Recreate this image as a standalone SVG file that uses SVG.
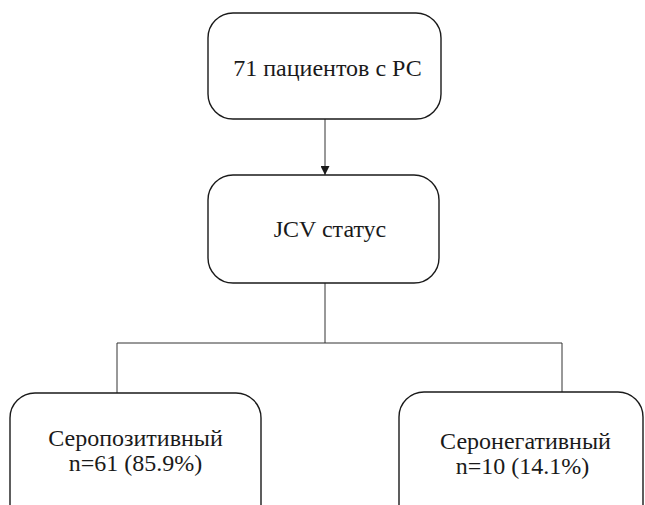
<svg xmlns="http://www.w3.org/2000/svg" width="645" height="505" viewBox="0 0 645 505">
  <defs>
    <marker id="arrow" viewBox="0 0 10 10" refX="10" refY="5" markerWidth="9" markerHeight="9" markerUnits="userSpaceOnUse" orient="auto">
      <path d="M0,0 L10,5 L0,10 Z" fill="#1a1a1a"/>
    </marker>
  </defs>
  <rect width="645" height="505" fill="#ffffff"/>
  <g id="connectors" fill="none" stroke="#333333" stroke-width="1">
    <line x1="325" y1="119" x2="325" y2="175" marker-end="url(#arrow)"/>
    <polyline points="325,283 325,343"/>
    <polyline points="117,393 117,343 562,343 562,392"/>
  </g>
  <g id="nodes">
    <g id="node-patients">
      <rect x="208" y="13" width="233" height="106" rx="25" ry="25" fill="#ffffff" stroke="#1a1a1a" stroke-width="1.4"/>
      <text x="327.5" y="76" font-family="Liberation Serif" font-size="24" fill="#1a1a1a" text-anchor="middle">71 пациентов с РС</text>
    </g>
    <g id="node-jcv">
      <rect x="208" y="175" width="231" height="108" rx="25" ry="25" fill="#ffffff" stroke="#1a1a1a" stroke-width="1.4"/>
      <text x="330" y="237" font-family="Liberation Serif" font-size="24" fill="#1a1a1a" text-anchor="middle">JCV статус</text>
    </g>
    <g id="node-seropositive">
      <rect x="10" y="393" width="251" height="140" rx="25" ry="25" fill="#ffffff" stroke="#1a1a1a" stroke-width="1.4"/>
      <text x="135.5" y="446" font-family="Liberation Serif" font-size="24" fill="#1a1a1a" text-anchor="middle">Серопозитивный</text>
      <text x="135.5" y="471" font-family="Liberation Serif" font-size="24" fill="#1a1a1a" text-anchor="middle">n=61 (85.9%)</text>
    </g>
    <g id="node-seronegative">
      <rect x="399" y="392" width="244" height="140" rx="25" ry="25" fill="#ffffff" stroke="#1a1a1a" stroke-width="1.4"/>
      <text x="525.5" y="449" font-family="Liberation Serif" font-size="24" fill="#1a1a1a" text-anchor="middle">Серонегативный</text>
      <text x="522.5" y="474" font-family="Liberation Serif" font-size="24" fill="#1a1a1a" text-anchor="middle">n=10 (14.1%)</text>
    </g>
  </g>
</svg>
